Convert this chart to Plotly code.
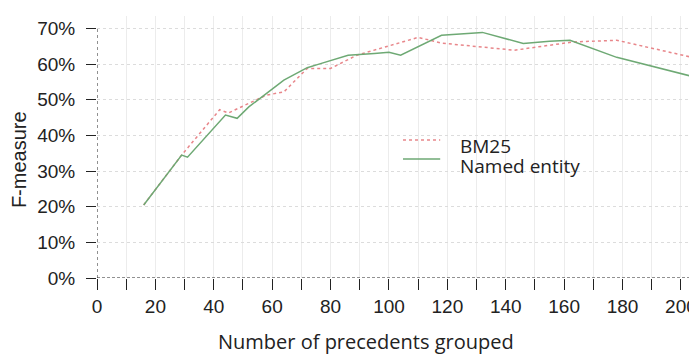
import plotly.graph_objects as go

# Data
ne_x = [16, 29, 31, 44, 48, 52, 64, 72, 76, 86, 95, 100, 104, 118, 132, 146, 155, 162, 178, 206]
ne_y = [0.205, 0.345, 0.339, 0.457, 0.448, 0.48, 0.555, 0.59, 0.60, 0.625, 0.630, 0.633, 0.625,
        0.681, 0.689, 0.658, 0.664, 0.667, 0.619, 0.561]

bm_x = [16, 29, 42, 45, 58, 64, 72, 80, 89, 103, 110, 118, 143, 155, 163, 178, 206]
bm_y = [0.205, 0.345, 0.472, 0.463, 0.513, 0.522, 0.588, 0.588, 0.625, 0.657, 0.675, 0.659,
        0.639, 0.653, 0.662, 0.667, 0.615]

x_ticks = [0, 20, 40, 60, 80, 100, 120, 140, 160, 180, 200]
y_ticks = [0, 0.1, 0.2, 0.3, 0.4, 0.5, 0.6, 0.7]

series_names = ["BM25", "Named entity"]
series_colors = ["#e8868a", "#6ea974"]
series_dash = ["dot", "solid"]

X_MAX = 205.5
Y_MAX = 0.735

fig = go.Figure()
fig.add_trace(go.Scatter(x=bm_x, y=bm_y, mode="lines", name=series_names[0],
                         line=dict(color=series_colors[0], width=1.5, dash=series_dash[0])))
fig.add_trace(go.Scatter(x=ne_x, y=ne_y, mode="lines", name=series_names[1],
                         line=dict(color=series_colors[1], width=1.5, dash=series_dash[1])))

tick_font = dict(family="Liberation Sans, Arial, sans-serif", size=19, color="#222")
ui_font = "Open Sans, sans-serif"

# The page body has an 8px margin, so the figure is sized to fit the 697x354 window.
fig.update_layout(
    width=689, height=346,
    margin=dict(l=89, r=0, t=8, b=76),
    paper_bgcolor="white", plot_bgcolor="white",
    showlegend=False,
    xaxis=dict(range=[0, X_MAX], tickvals=x_ticks, ticks="outside", ticklen=11,
               tickcolor="#222", tickwidth=1, showline=False, zeroline=False,
               showgrid=True, gridcolor="#ececec", gridwidth=1,
               minor=dict(dtick=10, tick0=0, ticks="outside", ticklen=11, tickcolor="#222",
                          showgrid=True, gridcolor="#ececec"),
               tickfont=tick_font, ticklabelstandoff=0),
    yaxis=dict(range=[0, Y_MAX], tickvals=y_ticks, tickformat=".0%", ticks="outside",
               ticklen=10, tickcolor="#222", showline=False, zeroline=False,
               showgrid=True, gridcolor="#dcdcdc", griddash="dot",
               tickfont=tick_font, ticklabelstandoff=7),
)

# Axis titles
fig.add_annotation(text="Number of precedents grouped", xref="paper", yref="paper",
                   x=0.449, y=-0.243, xanchor="center", yanchor="middle", showarrow=False,
                   font=dict(family=ui_font, size=20, color="#222"))
fig.add_annotation(text="F-measure", xref="paper", yref="paper", textangle=-90,
                   x=-0.13, y=0.45, xanchor="center", yanchor="middle", showarrow=False,
                   font=dict(family="Liberation Sans, Arial, sans-serif", size=20, color="#222"))

# Legend (drawn manually to match placement)
leg_line_y = [0.527, 0.454]
leg_text_y = [0.504, 0.427]
for name, color, dash, ly, ty in zip(series_names, series_colors, series_dash, leg_line_y, leg_text_y):
    fig.add_shape(type="line", xref="paper", yref="paper", x0=0.51, x1=0.572, y0=ly, y1=ly,
                  line=dict(color=color, width=1.5, dash=dash))
    fig.add_annotation(text=name, xref="paper", yref="paper", x=0.6017, y=ty,
                       xanchor="left", yanchor="middle", showarrow=False,
                       font=dict(family=ui_font, size=19, color="#222"))

# Dotted / dashed axis lines as in the reference
fig.add_shape(type="line", xref="x", yref="y", x0=0, x1=0, y0=0, y1=y_ticks[-1],
              line=dict(color="#222", width=1, dash="dot"))
fig.add_shape(type="line", xref="x", yref="y", x0=0, x1=X_MAX, y0=0, y1=0,
              line=dict(color="#222", width=1, dash="3px,2px"))

fig.write_html("out.html")
